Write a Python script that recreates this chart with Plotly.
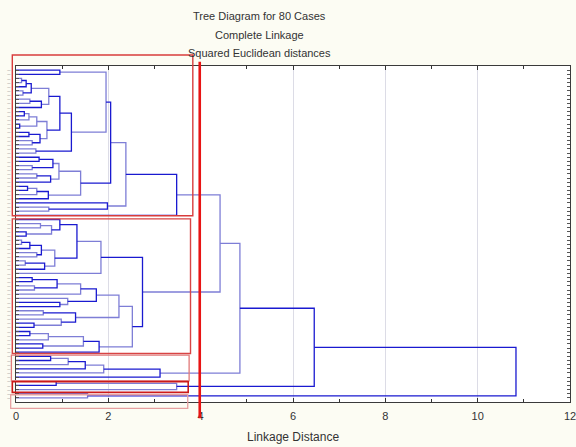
import plotly.graph_objects as go

L = "L"  # a single case (leaf)

# ---- Tree data: each node is [linkage distance, upper child, lower child] ----
# Cluster 1 (cases 1-36)
box1_upper = [1.95, [0.95, L, L],
              [1.20,
               [0.95,
                [0.71, [0.33, [0.22, [0.12, L, L], L], [0.15, L, L]], [0.55, [0.30, L, L], L]],
                [0.67, [0.45, [0.28, [0.18, L, L], L], [0.08, L, L]], [0.52, [0.28, L, L], [0.35, L, L]]]],
               [0.43, L, L]]]
box1_middle = [1.40,
               [0.93, [0.80, [0.50, L, L], [0.35, L, L]], [0.75, [0.45, L, L], L]],
               [0.70, [0.45, [0.25, L, L], L], L]]
box1_lower = [1.98, L, [0.71, L, L]]
box1_heights = [2.05, 2.38, 3.48]

# Cluster 2 (cases 37-69)
box2_a = [1.84, [1.32, [0.95, L, [0.77, [0.53, L, L], [0.22, L, L]]],
                 [0.84, [0.55, [0.30, [0.12, L, L], L], [0.45, L, L]], [0.62, [0.20, L, L], L]]], L]
box2_b = [1.74, [1.40, [0.89, [0.35, L, L], [0.40, L, L]], L], [1.12, L, [0.95, L, L]]]
box2_c = [1.29, [0.59, L, L], [0.98, L, [0.39, L, L]]]
box2_d = [1.80, [1.46, [0.70, [0.30, L, L], L], [0.58, L, L]], L]
box2_heights = [2.23, 2.52, 2.74]

# Clusters 3-5
box3 = [3.12, [1.90, [1.50, [1.13, [0.75, L, L], L], L], L], L]
box4 = [3.48, [0.87, L, L], L]
box5 = [1.55, L, L]

top_heights = [4.42, 4.85, 6.46, 10.83]

# cluster memberships for the red boxes (first case, last case)
box_ranges = [(0, 35), (36, 68), (69, 74), (75, 77), (78, 79)]
cut_distance = 3.98

x_ticks = [0, 2, 4, 6, 8, 10, 12]
case_label = "\u2014"  # case labels are rendered as tiny dashes
title_lines = ["Tree Diagram for 80 Cases", "Complete Linkage", "Squared Euclidean distances"]
x_title = "Linkage Distance"

# ---- assemble tree ----
box1 = [box1_heights[2], [box1_heights[1], [box1_heights[0], box1_upper, box1_middle], box1_lower], L]
box2 = [box2_heights[2], box2_a, [box2_heights[1], [box2_heights[0], box2_b, box2_c], box2_d]]
tree = box1
for h, sub in zip(top_heights, [box2, box3, box4, box5]):
    tree = [h, tree, sub]

dark = ([], [])
light = ([], [])
counter = [0]
midx = [0]


def walk(node):
    if node == L:
        y = counter[0]
        counter[0] += 1
        return 0.0, float(y)
    h, a, b = node
    ha, ya = walk(a)
    hb, yb = walk(b)
    k = midx[0]
    midx[0] += 1
    xs, ys = dark if k % 2 == 0 else light
    xs += [ha, h, h, hb, None]
    ys += [ya, ya, yb, yb, None]
    return h, (ya + yb) / 2


walk(tree)
n_cases = counter[0]
case_pos = list(range(n_cases))

fig = go.Figure()
fig.add_trace(go.Scatter(x=light[0], y=light[1], mode="lines",
                         line=dict(color="#7e7ed6", width=1.3), hoverinfo="skip", showlegend=False))
fig.add_trace(go.Scatter(x=dark[0], y=dark[1], mode="lines",
                         line=dict(color="#1a1ad0", width=1.3), hoverinfo="skip", showlegend=False))

YMIN, YMAX = -1, n_cases  # reversed axis
XMAX = 12


def px_(d):
    return d / XMAX


def py_(v):
    return 1 - (v - YMIN) / (YMAX - YMIN)


# red cluster boxes (x extents, padding above/below in case units, colour, width)
box_styles = [
    (-0.08, 3.83, 3.64, 0.10, "#d83c3c", 1.4),
    (-0.08, 3.78, 0.14, 0.32, "#d84444", 1.4),
    (-0.10, 3.75, 0.32, 0.88, "#e07a7a", 1.3),
    (-0.08, 3.73, -0.12, 0.68, "#cc1a1a", 1.6),
    (-0.115, 3.72, -0.25, 2.53, "#e6a0a0", 1.3),
]
shapes = []
for (a, b), (x0, x1, pt, pb, col, w) in zip(box_ranges, box_styles):
    shapes.append(dict(type="rect", xref="paper", yref="paper",
                       x0=px_(x0), x1=px_(x1), y0=py_(b + pb), y1=py_(a - pt),
                       line=dict(color=col, width=w), fillcolor="rgba(0,0,0,0)", layer="above"))
shapes.append(dict(type="line", xref="paper", yref="paper",
                   x0=px_(cut_distance), x1=px_(cut_distance), y0=py_(83.9), y1=py_(-2.05),
                   line=dict(color="#e81414", width=2.6), layer="above"))

annotations = []
for text, ypx in zip(title_lines, [15.7, 35.0, 52.7]):
    annotations.append(dict(text=text, xref="paper", yref="paper", x=(259 - 16) / 554,
                            y=1 + (66 - ypx) / 336, xanchor="center", yanchor="middle",
                            showarrow=False, font=dict(family="Liberation Sans", size=11, color="#333333")))
annotations.append(dict(text=x_title, xref="paper", yref="paper", x=0.5, y=(402 - 437) / 336,
                        xanchor="center", yanchor="middle", showarrow=False,
                        font=dict(family="Liberation Sans", size=12, color="#333333")))

fig.update_layout(
    width=576, height=447,
    margin=dict(l=16, r=6, t=66, b=45, autoexpand=False),
    paper_bgcolor="#fcfcf3", plot_bgcolor="#ffffff",
    font=dict(family="Liberation Sans", size=11, color="#333333"),
    shapes=shapes, annotations=annotations, showlegend=False,
    xaxis=dict(range=[0, XMAX], tickvals=x_ticks, ticktext=[str(t) for t in x_ticks],
               ticks="inside", ticklen=4, tickcolor="#333333",
               minor=dict(dtick=1, tick0=0, ticks="inside", ticklen=3, tickcolor="#333333", showgrid=False),
               showgrid=True, gridcolor="#dcdce6", gridwidth=1, zeroline=False,
               showline=True, linecolor="#3a3a3a", linewidth=1, mirror="allticks",
               tickfont=dict(size=11, color="#333333"), ticklabelstandoff=4,
               ticklabeloverflow="allow", automargin=False),
    yaxis=dict(range=[YMAX, YMIN], tickvals=case_pos, ticktext=[case_label] * n_cases,
               tickfont=dict(size=3.2, color="#555555"), ticklabelstandoff=4,
               ticks="inside", ticklen=3, tickcolor="#555555", showgrid=False, zeroline=False,
               showline=True, linecolor="#3a3a3a", linewidth=1, mirror="allticks",
               automargin=False),
)

fig.write_html("out.html")
